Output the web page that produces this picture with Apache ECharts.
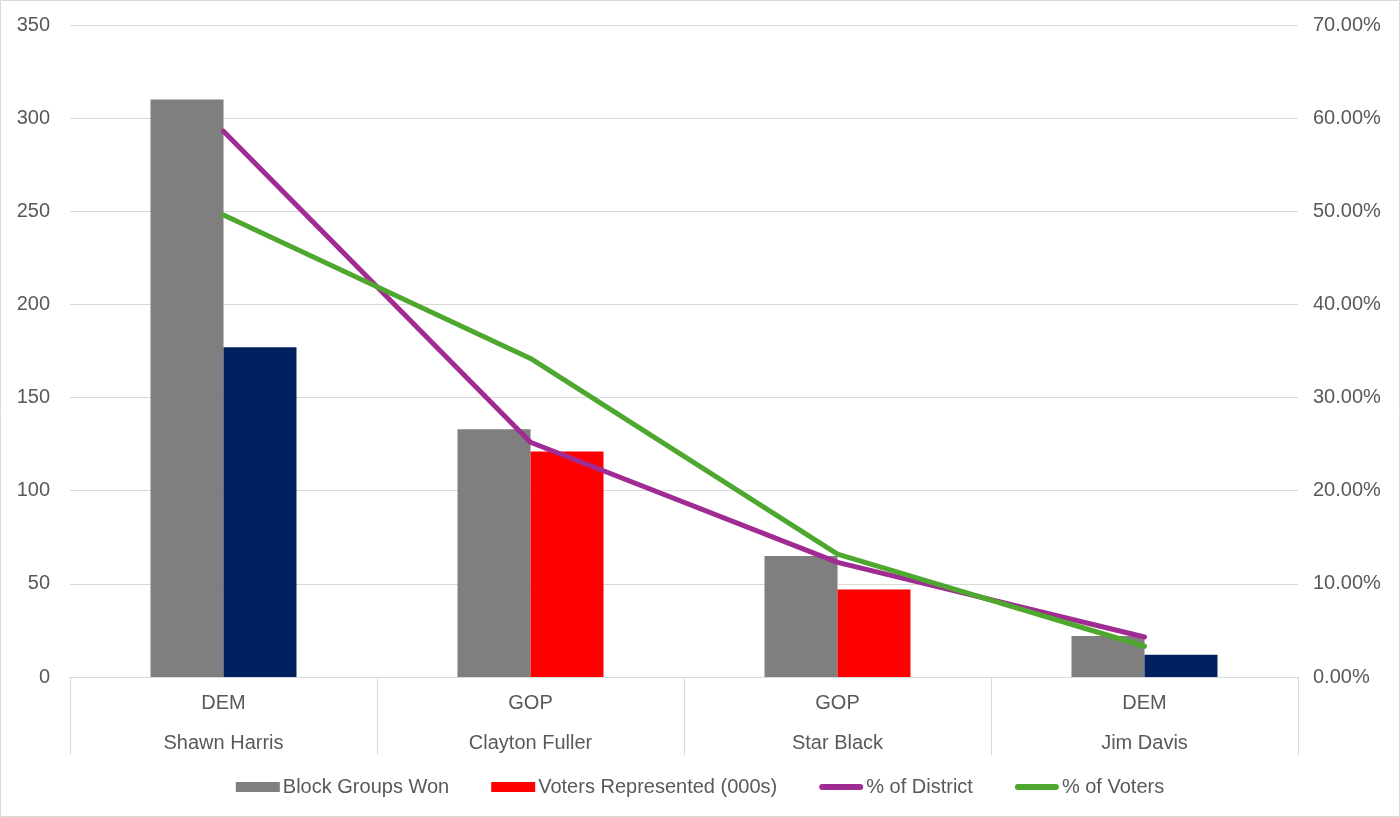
<!DOCTYPE html>
<html>
<head>
<meta charset="utf-8">
<script src="https://cdn.jsdelivr.net/npm/echarts@6/dist/echarts.min.js"></script>
<style>
  html, body { margin: 0; padding: 0; background: #fff; }
  #chart { width: 1400px; height: 817px; }
</style>
</head>
<body>
<div id="chart"></div>
<script>
// 데이터
var parties = ['DEM', 'GOP', 'GOP', 'DEM'];
var candidates = ['Shawn Harris', 'Clayton Fuller', 'Star Black', 'Jim Davis'];
var blockGroupsWon = [310, 133, 65, 22];
var votersRepresented = [177, 121, 47, 12];
var pctDistrict = [0.586, 0.252, 0.123, 0.043];
var pctVoters = [0.496, 0.342, 0.132, 0.033];

var partyColors = { DEM: '#002060', GOP: '#ff0000' };
var categories = candidates.map(function (name, i) { return parties[i] + '\n' + name; });

var FONT = 'Liberation Sans';
var TEXT = '#595959';
var GRID = '#d9d9d9';
// 범례용 굵은 선 아이콘 (높이 10 안에서 가운데 6px)
var LINE_ICON = 'path://M0,0L0,0M44,10L44,10M3,2L41,2A3,3,0,0,1,41,8L3,8A3,3,0,0,1,3,2Z';

var chart = echarts.init(document.getElementById('chart'));

var option = {
  animation: false,
  textStyle: { fontFamily: FONT },
  graphic: [{
    type: 'rect',
    shape: { x: 0.5, y: 0.5, width: 1399, height: 816 },
    style: { fill: 'none', stroke: GRID, lineWidth: 1 },
    silent: true
  }],
  grid: { left: 70, right: 102, top: 25, bottom: 140 },
  legend: {
    top: 772,
    left: 'center',
    itemGap: 42,
    itemWidth: 44,
    itemHeight: 10,
    textStyle: { color: TEXT, fontSize: 20, fontFamily: FONT, padding: [0, 0, 0, -2] },
    data: [
      { name: 'Block Groups Won', icon: 'rect' },
      { name: 'Voters Represented (000s)', icon: 'rect', itemStyle: { color: '#ff0000' } },
      { name: '% of District', icon: LINE_ICON, itemStyle: { color: '#a02b93' } },
      { name: '% of Voters', icon: LINE_ICON, itemStyle: { color: '#4ea72e' } }
    ]
  },
  xAxis: {
    type: 'category',
    data: categories,
    axisLine: { lineStyle: { color: GRID } },
    axisTick: { show: true, length: 78, interval: 0, lineStyle: { color: GRID } },
    axisLabel: { color: TEXT, fontSize: 20, lineHeight: 40, margin: 6, interval: 0 }
  },
  yAxis: [{
    type: 'value',
    min: 0, max: 350, interval: 50,
    axisLine: { show: false },
    axisTick: { show: false },
    splitLine: { lineStyle: { color: GRID } },
    axisLabel: { color: TEXT, fontSize: 20, margin: 20 }
  }, {
    type: 'value',
    min: 0, max: 0.7, interval: 0.1,
    axisLine: { show: false },
    axisTick: { show: false },
    splitLine: { show: false },
    axisLabel: {
      color: TEXT, fontSize: 20, margin: 15,
      formatter: function (v) { return (v * 100).toFixed(2) + '%'; }
    }
  }],
  series: [{
    name: 'Block Groups Won',
    type: 'bar',
    barWidth: 73,
    barGap: '0%',
    itemStyle: { color: '#7f7f7f' },
    data: blockGroupsWon
  }, {
    name: 'Voters Represented (000s)',
    type: 'bar',
    barWidth: 73,
    barGap: '0%',
    itemStyle: { color: '#ff0000' },
    data: votersRepresented.map(function (v, i) {
      return { value: v, itemStyle: { color: partyColors[parties[i]] } };
    })
  }, {
    name: '% of District',
    type: 'line',
    yAxisIndex: 1,
    showSymbol: false,
    symbol: 'none',
    lineStyle: { width: 5, color: '#a02b93', cap: 'round' },
    itemStyle: { color: '#a02b93' },
    data: pctDistrict
  }, {
    name: '% of Voters',
    type: 'line',
    yAxisIndex: 1,
    showSymbol: false,
    symbol: 'none',
    lineStyle: { width: 5, color: '#4ea72e', cap: 'round' },
    itemStyle: { color: '#4ea72e' },
    data: pctVoters
  }]
};

chart.setOption(option);
</script>
</body>
</html>
